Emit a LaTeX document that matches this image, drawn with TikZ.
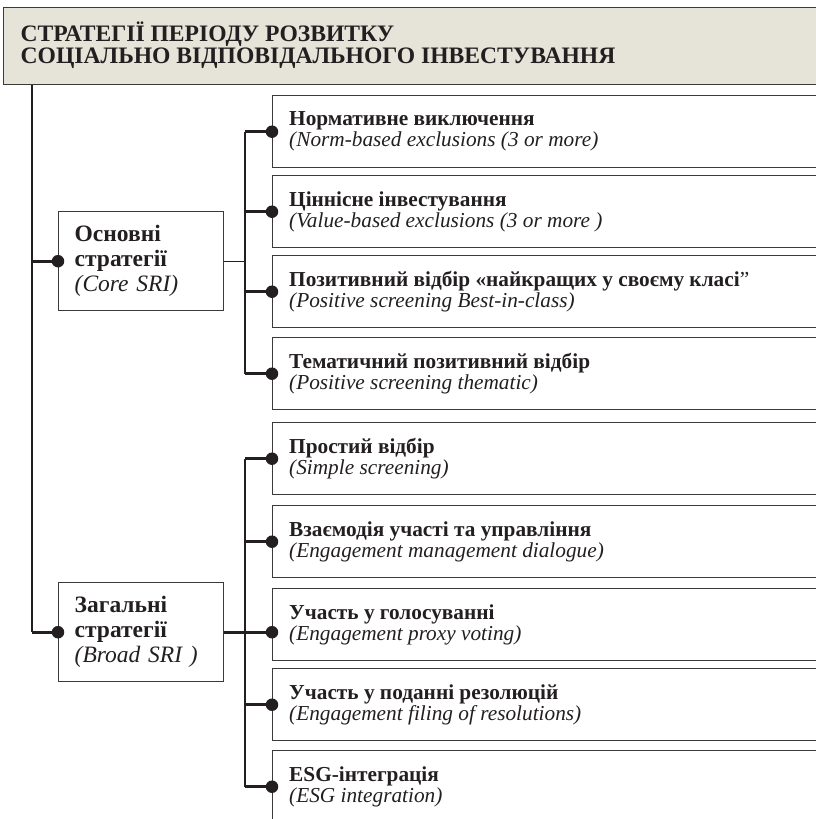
\documentclass[tikz,border=0pt]{standalone}
\usepackage{fontspec}
\setmainfont{Liberation Serif}
\definecolor{ink}{HTML}{231F20}
\definecolor{edge}{HTML}{3A3A3A}
\definecolor{titlefill}{HTML}{E6E3D9}
\tikzset{
  sbox/.style={draw=edge, line width=1.4pt, rectangle, anchor=north west, inner sep=0pt},
  rbox/.style={sbox, minimum width=600pt, minimum height=72pt},
  lbox/.style={sbox, minimum width=165pt, minimum height=99pt, align=left, text=ink,
    font=\fontsize{23.5}{25}\selectfont, inner xsep=16pt, text width=133pt},
  rtext/.style={anchor=west, align=left, text=ink, inner sep=0pt,
    font=\fontsize{21.3}{21}\selectfont},
  thinline/.style={draw=ink, line width=1.2pt},
  stub/.style={draw=ink, line width=2.8pt},
  dotc/.style={circle, fill=ink, inner sep=0pt, minimum size=12.5pt}
}
\begin{document}
\begin{tikzpicture}[x=1pt,y=-1pt]
\useasboundingbox (0,0) rectangle (816,819);
\clip (0,0) rectangle (816,819);
% title
\node[sbox, fill=titlefill, minimum width=840pt, minimum height=77pt] (title) at (3,7) {};
\node[anchor=west, align=left, text=ink, inner sep=0pt,
  font=\fontsize{23.6}{22}\selectfont\bfseries] (ttext) at (20.5,45.3)
  {СТРАТЕГІЇ ПЕРІОДУ РОЗВИТКУ\\СОЦІАЛЬНО ВІДПОВІДАЛЬНОГО ІНВЕСТУВАННЯ};
% left boxes
\node[lbox] (osn) at (58,211) {\textbf{Основні}\\\textbf{стратегії}\\\textit{(Core SRI)}};
\node[lbox] (zag) at (58,582) {\textbf{Загальні}\\\textbf{стратегії}\\\textit{(Broad SRI )}};
% right boxes
\node[rbox] (b1) at (272,95) {};
\node[rbox] (b2) at (272,175) {};
\node[rbox] (b3) at (272,255) {};
\node[rbox] (b4) at (272,337) {};
\node[rbox] (b5) at (272,422) {};
\node[rbox] (b6) at (272,505) {};
\node[rbox] (b7) at (272,588) {};
\node[rbox] (b8) at (272,668) {};
\node[rbox] (b9) at (272,750) {};
\tikzset{tshift/.style={xshift=17pt,yshift=0pt}}
\node[rtext] (t1) at ([tshift]b1.west) {\textbf{Нормативне виключення}\\\textit{(Norm-based exclusions (3 or more)}};
\node[rtext] (t2) at ([tshift]b2.west) {\textbf{Ціннісне інвестування}\\\textit{(Value-based exclusions (3 or more )}};
\node[rtext] (t3) at ([tshift]b3.west) {\textbf{Позитивний відбір «найкращих у своєму класі}”\\\textit{(Positive screening Best-in-class)}};
\node[rtext] (t4) at ([tshift]b4.west) {\textbf{Тематичний позитивний відбір}\\\textit{(Positive screening thematic)}};
\node[rtext] (t5) at ([tshift]b5.west) {\textbf{Простий відбір}\\\textit{(Simple screening)}};
\node[rtext] (t6) at ([tshift]b6.west) {\textbf{Взаємодія участі та управління}\\\textit{(Engagement management dialogue)}};
\node[rtext] (t7) at ([tshift]b7.west) {\textbf{Участь у голосуванні}\\\textit{(Engagement proxy voting)}};
\node[rtext] (t8) at ([tshift]b8.west) {\textbf{Участь у поданні резолюцій}\\\textit{(Engagement filing of resolutions)}};
\node[rtext] (t9) at ([tshift]b9.west) {\textbf{ESG-інтеграція}\\\textit{(ESG integration)}};
% spines
\coordinate (sL) at (32,0);
\coordinate (sR) at (245,0);
\draw[thinline] (title.south -| sL) -- (zag.west -| sL);
\draw[stub] (osn.west -| sL) -- (osn.west);
\draw[stub] (zag.west -| sL) -- (zag.west);
\node[dotc] (dosn) at (osn.west) {};
\node[dotc] (dzag) at (zag.west) {};
% upper group
\draw[thinline] (osn.east) -- (osn.east -| sR);
\draw[thinline] (b1.west -| sR) -- (b4.west -| sR);
\foreach \b in {b1,b2,b3,b4,b5,b6,b8,b9}{
  \draw[stub] (\b.west -| sR) -- (\b.west);
  \node[dotc] (d\b) at (\b.west) {};
}
% lower group
\coordinate (c7) at (zag.east -| b7.west);
\draw[thinline] (b5.west -| sR) -- (b9.west -| sR);
\draw[stub] (zag.east) -- (c7);
\node[dotc] (db7) at (c7) {};
\end{tikzpicture}
\end{document}
